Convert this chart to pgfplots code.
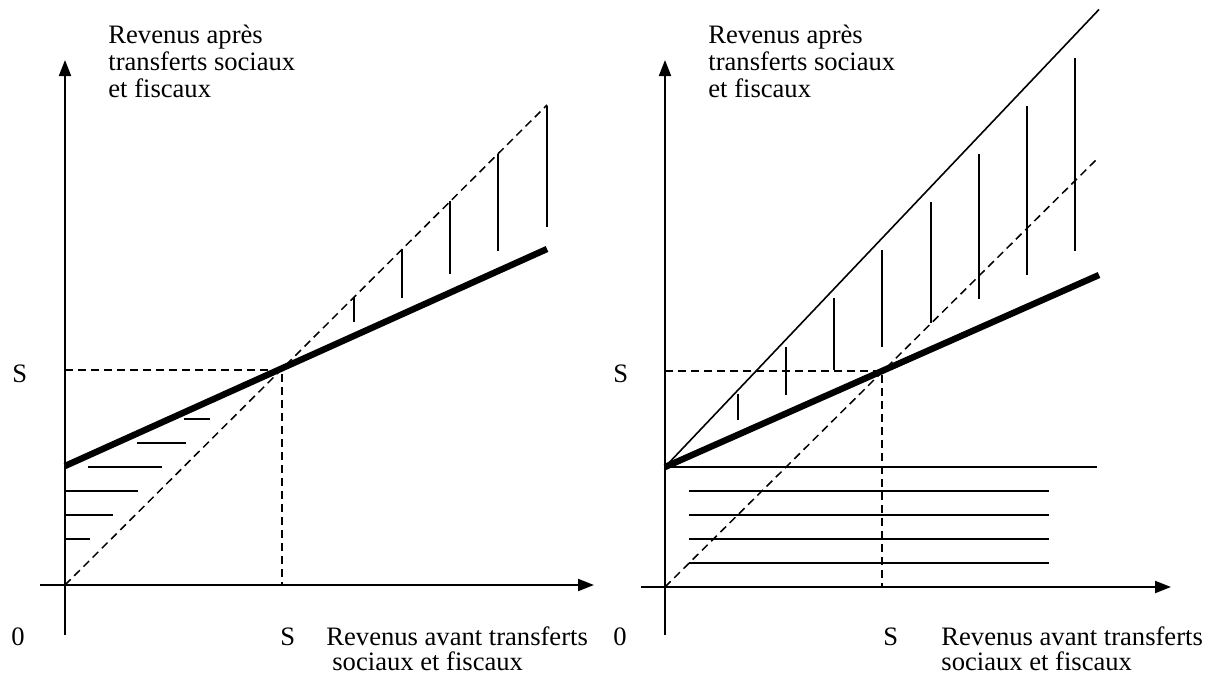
\documentclass[border=0pt]{standalone}
\usepackage{pgfplots}
\pgfplotsset{compat=1.18}
\usepackage{fontspec}
\setmainfont{Liberation Serif}
\usetikzlibrary{arrows.meta}

\begin{document}
\fontsize{13.3}{13.5}\selectfont
\begin{tikzpicture}[font=\fontsize{13.3}{13.5}\selectfont]
\tikzset{
  ax/.style={black, line width=1pt, -{Triangle[length=8pt,width=6pt]}},
  dsh/.style={black, line width=0.75pt, dash pattern=on 4pt off 2.5pt},
  hatch/.style={black, line width=1pt},
  thin/.style={black, line width=0.8pt},
  heavy/.style={black, line width=3.2pt},
  lbl/.style={anchor=base west, inner sep=0pt},
}
\pgfplotsset{
  panel/.style={hide axis, clip=false, x=0.5pt, y=0.5pt, anchor=south west},
}
% ---------------- Left panel ----------------
\begin{axis}[panel, at={(0pt,0pt)}, xmin=-65, xmax=535, ymin=-92, ymax=585]
  % axes
  \addplot[ax] coordinates {(0,-50) (0,525)};
  \addplot[ax] coordinates {(-25,0) (529,0)};
  % 45 degree dashed line
  \addplot[dsh] coordinates {(0,0) (482,480)};
  % S reference lines
  \addplot[dsh] coordinates {(0,215) (217,215) (217,0)};
  % thick line (after transfers)
  \addplot[heavy] coordinates {(0,119) (482,336)};
  % horizontal hatching
  \addplot[hatch] coordinates {(0,46) (25,46)};
  \addplot[hatch] coordinates {(0,70) (48,70)};
  \addplot[hatch] coordinates {(0,94) (73,94)};
  \addplot[hatch] coordinates {(23,118) (97,118)};
  \addplot[hatch] coordinates {(72,142) (121,142)};
  \addplot[hatch] coordinates {(119,166) (145,166)};
  % vertical hatching
  \addplot[hatch] coordinates {(289,263) (289,288)};
  \addplot[hatch] coordinates {(337,287) (337,336)};
  \addplot[hatch] coordinates {(385,311) (385,384)};
  \addplot[hatch] coordinates {(433,334) (433,431)};
  \addplot[hatch] coordinates {(481.5,358) (481.5,479)};
  % labels
  \node[lbl] at (axis cs:43,542) {Revenus après};
  \node[lbl] at (axis cs:43,515) {transferts sociaux};
  \node[lbl] at (axis cs:43,488) {et fiscaux};
  \node[lbl] at (axis cs:-53,203) {S};
  \node[lbl] at (axis cs:-54,-60) {0};
  \node[lbl] at (axis cs:215,-60) {S};
  \node[lbl] at (axis cs:261,-60) {Revenus avant transferts};
  \node[lbl] at (axis cs:267,-85) {sociaux et fiscaux};
\end{axis}
% ---------------- Right panel ----------------
\begin{axis}[panel, at={(300pt,0pt)}, xmin=-65, xmax=541, ymin=-90, ymax=587]
  % axes
  \addplot[ax] coordinates {(0,-48) (0,527)};
  \addplot[ax] coordinates {(-24,0) (506,0)};
  % 45 degree dashed line
  \addplot[dsh] coordinates {(0,0) (434,430)};
  % S reference lines
  \addplot[dsh] coordinates {(0,216) (217,216) (217,0)};
  % thin line
  \addplot[thin] coordinates {(0,120) (434,577.5)};
  % horizontal line at guaranteed level
  \addplot[hatch] coordinates {(0,120) (432,120)};
  % thick line (after transfers)
  \addplot[heavy] coordinates {(0,120) (434,312)};
  % horizontal hatching
  \addplot[hatch] coordinates {(24,96) (384,96)};
  \addplot[hatch] coordinates {(24,72) (384,72)};
  \addplot[hatch] coordinates {(24,48) (384,48)};
  \addplot[hatch] coordinates {(24,24) (384,24)};
  % vertical hatching
  \addplot[hatch] coordinates {(72.6,167.5) (72.6,193)};
  \addplot[hatch] coordinates {(120.8,192) (120.8,240.5)};
  \addplot[hatch] coordinates {(169.1,217) (169.1,289)};
  \addplot[hatch] coordinates {(217.4,240) (217.4,337)};
  \addplot[hatch] coordinates {(265.6,264) (265.6,385)};
  \addplot[hatch] coordinates {(313.5,288) (313.5,433)};
  \addplot[hatch] coordinates {(361.8,312) (361.8,481)};
  \addplot[hatch] coordinates {(410,336) (410,529)};
  % labels
  \node[lbl] at (axis cs:43,544) {Revenus après};
  \node[lbl] at (axis cs:43,517) {transferts sociaux};
  \node[lbl] at (axis cs:43,490) {et fiscaux};
  \node[lbl] at (axis cs:-52,205) {S};
  \node[lbl] at (axis cs:-52,-58) {0};
  \node[lbl] at (axis cs:218,-58) {S};
  \node[lbl] at (axis cs:276,-58) {Revenus avant transferts};
  \node[lbl] at (axis cs:276,-83) {sociaux et fiscaux};
\end{axis}
\pgfresetboundingbox
\path[use as bounding box] (0pt,0pt) rectangle (603pt,338.5pt);
\end{tikzpicture}
\end{document}
